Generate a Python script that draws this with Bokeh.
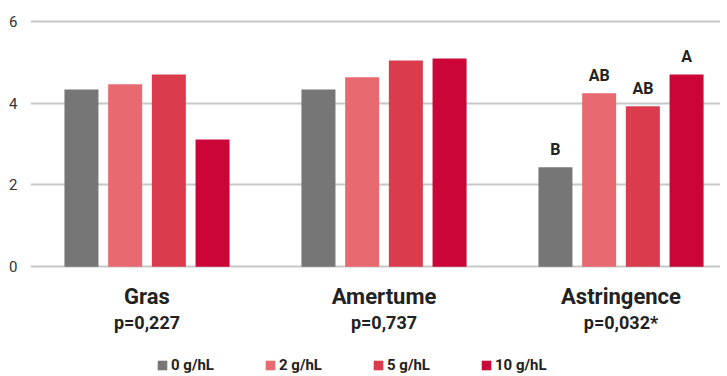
from bokeh.plotting import figure
from bokeh.models import ColumnDataSource, Range1d, FixedTicker, Legend, LegendItem
from bokeh.transform import dodge
from bokeh.core.properties import value
from bokeh.embed import file_html
from bokeh.resources import INLINE

# ---- data ----
groups = ["Gras", "Amertume", "Astringence"]
pvalues = ["p=0,227", "p=0,737", "p=0,032*"]
doses = ["0 g/hL", "2 g/hL", "5 g/hL", "10 g/hL"]
dose0 = [4.33, 4.33, 2.43]
dose2 = [4.46, 4.63, 4.24]
dose5 = [4.70, 5.04, 3.92]
dose10 = [3.11, 5.09, 4.70]
letters0 = ["", "", "B"]
letters2 = ["", "", "AB"]
letters5 = ["", "", "AB"]
letters10 = ["", "", "A"]
yticks = [0, 2, 4, 6]
colors = ["#767676", "#e8696f", "#da3c4e", "#cc0538"]

FONT = "Roboto"

src = ColumnDataSource(dict(
    xi=list(range(len(groups))),
    group=groups, pval=pvalues,
    d0=dose0, d2=dose2, d5=dose5, d10=dose10,
    l0=letters0, l2=letters2, l5=letters5, l10=letters10,
    gy=[-0.72] * len(groups), py=[-1.35] * len(groups),
))

p = figure(width=720, height=376, output_backend="svg", toolbar_location=None,
           x_axis_location=None, title=None,
           x_range=Range1d(-0.4916, 2.4198), y_range=Range1d(-2.680, 6.066),
           min_border_left=30, min_border_right=0, min_border_top=18, min_border_bottom=0)
p.outline_line_color = None
p.xgrid.visible = False
p.ygrid.grid_line_color = "#c8c8c8"
p.ygrid.grid_line_width = 2
p.yaxis.ticker = FixedTicker(ticks=yticks)
p.yaxis.axis_line_color = None
p.yaxis.major_tick_line_color = None
p.yaxis.minor_tick_line_color = None
p.yaxis.major_tick_out = 0
p.yaxis.major_tick_in = 0
p.yaxis.major_label_standoff = 13
p.yaxis.major_label_text_font = FONT
p.yaxis.major_label_text_font_size = "15px"
p.yaxis.major_label_text_color = "#333333"

step = 0.1844
bw = 0.1435
offsets = [-1.5 * step, -0.5 * step, 0.5 * step, 1.5 * step]
cols = ["d0", "d2", "d5", "d10"]
lcols = ["l0", "l2", "l5", "l10"]
renderers = []
for off, c, lc, col in zip(offsets, cols, lcols, colors):
    r = p.vbar(x=dodge("xi", off, range=p.x_range), top=c, width=bw, bottom=0,
               source=src, fill_color=col, line_color=None)
    renderers.append(r)
    p.text(x=dodge("xi", off, range=p.x_range), y=c, text=lc, source=src,
           text_align="center", text_baseline="alphabetic", y_offset=-18,
           text_font=value(FONT), text_font_style="bold", text_font_size="16px",
           text_color="#222222")

p.text(x="xi", y="gy", text="group", source=src, text_align="center",
       text_baseline="alphabetic", text_font=value(FONT), text_font_style="bold",
       text_font_size="22px", text_color="#222222")
p.text(x="xi", y="py", text="pval", source=src, text_align="center",
       text_baseline="alphabetic", text_font=value(FONT), text_font_style="bold",
       text_font_size="18px", text_color="#222222")

legend = Legend(items=[LegendItem(label=d, renderers=[r]) for d, r in zip(doses, renderers)],
                orientation="horizontal", location=(126, 2),
                glyph_width=12, glyph_height=12, label_standoff=3, spacing=50,
                padding=0, margin=0, label_height=12,
                border_line_color=None, background_fill_alpha=0,
                label_text_font=FONT, label_text_font_style="bold",
                label_text_font_size="15px", label_text_color="#222222")
p.add_layout(legend, "center")

open("out.html", "w").write(file_html(p, INLINE))
